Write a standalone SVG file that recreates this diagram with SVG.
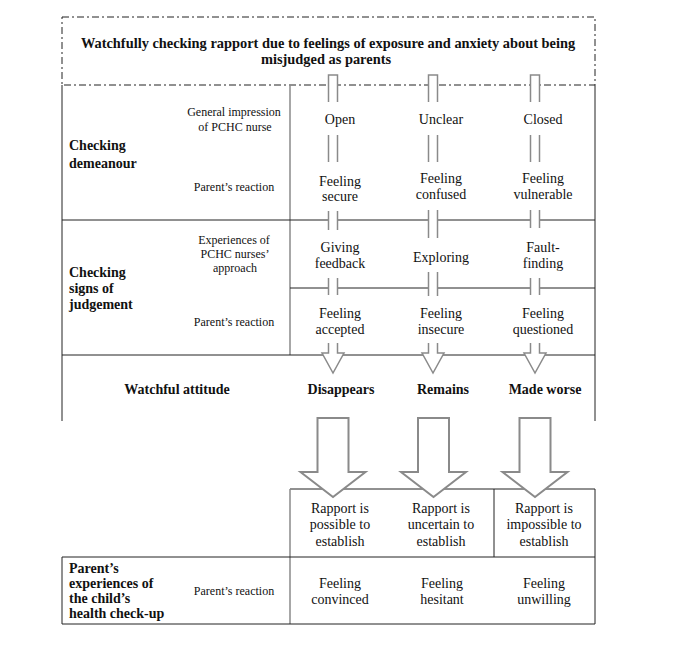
<svg xmlns="http://www.w3.org/2000/svg" width="685" height="665" viewBox="0 0 685 665">
<style>
  text { font-family: "Liberation Serif", "Times New Roman", serif; fill: #111; }
  .t { font-size: 14px; text-anchor: middle; }
  .s { font-size: 12px; text-anchor: middle; }
  .b { font-size: 14px; font-weight: bold; }
  .bc { font-size: 14px; font-weight: bold; text-anchor: middle; }
  .title { font-size: 14.4px; font-weight: bold; text-anchor: middle; }
  .dash { fill: none; stroke: #222; stroke-width: 1; stroke-dasharray: 7 3 2 3; }
  .ln { fill: none; stroke: #222; stroke-width: 1; }
  .gl { fill: none; stroke: #8a8a8a; stroke-width: 1.5; }
  .pair { fill: #fff; stroke: #8a8a8a; stroke-width: 1.5; }
  .arr { fill: #fff; stroke: #8a8a8a; stroke-width: 2; stroke-linejoin: miter; }
</style>
<rect width="685" height="665" fill="#fff"/>

<g id="frame">
  <rect class="dash" x="62" y="17" width="533" height="68"/>
  <line class="ln" x1="62" y1="85" x2="62" y2="421"/>
  <line class="ln" x1="595" y1="85" x2="595" y2="421"/>
  <line class="gl" x1="290" y1="85" x2="290" y2="355"/>
  <line class="ln" x1="62" y1="220" x2="595" y2="220" stroke="#111"/>
  <line class="ln" x1="290" y1="288" x2="595" y2="288" stroke="#555"/>
  <line class="ln" x1="62" y1="355" x2="595" y2="355" stroke="#555"/>
  <line class="ln" x1="290" y1="489" x2="595" y2="489"/>
  <line class="gl" x1="290" y1="489" x2="290" y2="624"/>
  <line class="ln" x1="595" y1="489" x2="595" y2="624"/>
  <line class="ln" x1="494" y1="489" x2="494" y2="557"/>
  <line class="ln" x1="62" y1="557" x2="595" y2="557"/>
  <line class="ln" x1="62" y1="557" x2="62" y2="624"/>
  <line class="ln" x1="62" y1="624" x2="595" y2="624"/>
</g>

<g id="title">
  <text class="title" x="328" y="48">Watchfully checking rapport due to feelings of exposure and anxiety about being</text>
  <text class="title" x="326" y="64">misjudged as parents</text>
</g>

<g id="checking-demeanour">
  <text class="b" x="69" y="150">Checking</text>
  <text class="b" x="69" y="168">demeanour</text>
  <text class="s" x="234" y="116">General impression</text>
  <text class="s" x="235" y="131">of PCHC nurse</text>
  <text class="s" x="234" y="191">Parent’s reaction</text>
</g>

<g id="impression-open"><text class="t" x="340" y="124">Open</text></g>
<g id="impression-unclear"><text class="t" x="441" y="124">Unclear</text></g>
<g id="impression-closed"><text class="t" x="543" y="124">Closed</text></g>

<g id="feeling-secure"><text class="t" x="340" y="186">Feeling</text><text class="t" x="340" y="201">secure</text></g>
<g id="feeling-confused"><text class="t" x="441" y="183">Feeling</text><text class="t" x="441" y="199">confused</text></g>
<g id="feeling-vulnerable"><text class="t" x="543" y="183">Feeling</text><text class="t" x="543" y="199">vulnerable</text></g>

<g id="checking-judgement">
  <text class="b" x="69" y="277">Checking</text>
  <text class="b" x="69" y="293">signs of</text>
  <text class="b" x="69" y="309">judgement</text>
  <text class="s" x="234" y="244">Experiences of</text>
  <text class="s" x="235" y="258">PCHC nurses’</text>
  <text class="s" x="235" y="272">approach</text>
  <text class="s" x="234" y="326">Parent’s reaction</text>
</g>

<g id="giving-feedback"><text class="t" x="340" y="252">Giving</text><text class="t" x="340" y="268">feedback</text></g>
<g id="exploring"><text class="t" x="441" y="262">Exploring</text></g>
<g id="fault-finding"><text class="t" x="543" y="252">Fault-</text><text class="t" x="543" y="268">finding</text></g>

<g id="feeling-accepted"><text class="t" x="340" y="318">Feeling</text><text class="t" x="340" y="334">accepted</text></g>
<g id="feeling-insecure"><text class="t" x="441" y="318">Feeling</text><text class="t" x="441" y="334">insecure</text></g>
<g id="feeling-questioned"><text class="t" x="543" y="318">Feeling</text><text class="t" x="543" y="334">questioned</text></g>

<g id="watchful-attitude"><text class="bc" x="177" y="394">Watchful attitude</text></g>
<g id="disappears"><text class="bc" x="341" y="394">Disappears</text></g>
<g id="remains"><text class="bc" x="443" y="394">Remains</text></g>
<g id="made-worse"><text class="bc" x="545" y="394">Made worse</text></g>

<g id="rapport-possible"><text class="t" x="340" y="513">Rapport is</text><text class="t" x="340" y="529">possible to</text><text class="t" x="340" y="546">establish</text></g>
<g id="rapport-uncertain"><text class="t" x="441" y="513">Rapport is</text><text class="t" x="441" y="529">uncertain to</text><text class="t" x="441" y="546">establish</text></g>
<g id="rapport-impossible"><text class="t" x="544" y="513">Rapport is</text><text class="t" x="544" y="529">impossible to</text><text class="t" x="544" y="546">establish</text></g>

<g id="health-checkup">
  <text class="b" x="69" y="573">Parent’s</text>
  <text class="b" x="69" y="588">experiences of</text>
  <text class="b" x="69" y="603">the child’s</text>
  <text class="b" x="69" y="618">health check-up</text>
  <text class="s" x="234" y="595">Parent’s reaction</text>
</g>
<g id="feeling-convinced"><text class="t" x="340" y="588">Feeling</text><text class="t" x="340" y="604">convinced</text></g>
<g id="feeling-hesitant"><text class="t" x="442" y="588">Feeling</text><text class="t" x="442" y="604">hesitant</text></g>
<g id="feeling-unwilling"><text class="t" x="544" y="588">Feeling</text><text class="t" x="544" y="604">unwilling</text></g>

<g id="connectors">
  <path class="pair" d="M328.5 102 V75 H337.5 V102"/>
  <path class="gl" d="M328.5 135 V162 M337.5 135 V162"/>
  <rect x="329" y="211" width="8" height="19" fill="#fff"/>
  <path class="gl" d="M328.5 211 V230 M337.5 211 V230"/>
  <rect x="329" y="278" width="8" height="17" fill="#fff"/>
  <path class="gl" d="M328.5 278 V295 M337.5 278 V295"/>
  <path class="pair" d="M328.5 343 V353 H322 L333 373 L344 353 H337.5 V343"/>
  <path class="arr" d="M317.5 418 H348.5 V472 H365.5 L333 497 L300.5 472 H317.5 Z"/>

  <path class="pair" d="M428.5 102 V75 H437.5 V102"/>
  <path class="gl" d="M428.5 135 V162 M437.5 135 V162"/>
  <rect x="429" y="210" width="8" height="28" fill="#fff"/>
  <path class="gl" d="M428.5 210 V238 M437.5 210 V238"/>
  <rect x="429" y="272" width="8" height="24" fill="#fff"/>
  <path class="gl" d="M428.5 272 V296 M437.5 272 V296"/>
  <path class="pair" d="M428.5 343 V353 H422 L433 373 L444 353 H437.5 V343"/>
  <path class="arr" d="M418 418 H449 V472 H466 L433.5 497 L401 472 H418 Z"/>

  <path class="pair" d="M530.5 102 V75 H539.5 V102"/>
  <path class="gl" d="M530.5 135 V162 M539.5 135 V162"/>
  <rect x="531" y="210" width="8" height="18" fill="#fff"/>
  <path class="gl" d="M530.5 210 V228 M539.5 210 V228"/>
  <rect x="531" y="278" width="8" height="17" fill="#fff"/>
  <path class="gl" d="M530.5 278 V295 M539.5 278 V295"/>
  <path class="pair" d="M530.5 343 V353 H524 L535 373 L546 353 H539.5 V343"/>
  <path class="arr" d="M519.5 418 H550.5 V472 H567.5 L535 497 L502.5 472 H519.5 Z"/>
</g>
</svg>
